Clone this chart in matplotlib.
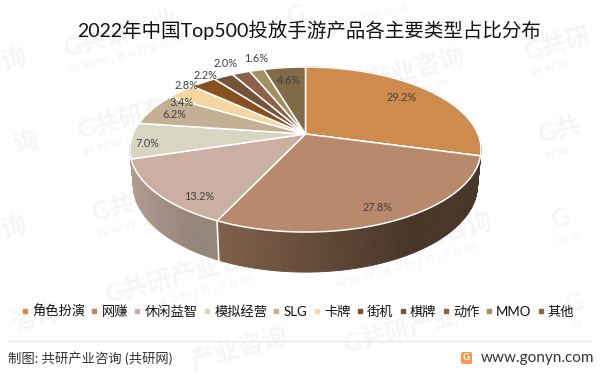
# -*- coding: utf-8 -*-
# pie 3D with perspective, drawn by hand because matplotlib has no 3D pie
import numpy as np
import matplotlib
matplotlib.use("Agg")
import matplotlib.pyplot as plt
from matplotlib.colors import to_rgb
from matplotlib.lines import Line2D
from matplotlib.patches import FancyBboxPatch

plt.rcParams['font.family'] = ['Lato', 'Noto Sans CJK SC', 'DejaVu Sans']

title = "2022年中国Top500投放手游产品各主要类型占比分布"
categorias = ["角色扮演", "网赚", "休闲益智", "模拟经营", "SLG", "卡牌", "街机", "棋牌", "动作", "MMO", "其他"]
valores = [29.2, 27.8, 13.2, 7.0, 6.2, 3.4, 2.8, 2.2, 2.0, 1.6, 4.6]
colores = ["#CF8A4E", "#B8896C", "#CBAFA3", "#D9D5C3", "#C4B195", "#F5D6A1",
           "#875020", "#75533A", "#8D6149", "#A38F61", "#806A47"]

# posicion de las etiquetas en pixeles
pos_etiquetas = [(402, 97), (378, 207), (199, 196), (147, 143), (174, 114), (182, 102),
                 (186, 85), (205, 75), (226, 63), (256, 58), (289, 80)]

# marca de agua: x, y, texto, subtexto (recortada a mano en los bordes)
WWW = "w w w . g o n y n . c o m"
marcas = [(65, 57, "G共研产业", WWW), (79, 139, "G共研产业咨询", WWW),
          (93, 221, "G共研产业咨询", WWW), (107, 303, "G共研产业咨询", WWW),
          (289, 25, "G", "w w w . g o n y n . c"), (303, 107, "G共研产业咨询", WWW),
          (317, 189, "G共研产业咨询", WWW), (331, 271, "G共研产业咨询", WWW),
          (345, 353, "G共研产业", ""),
          (527, 60, "G共研", "w w w"), (541, 143, "G共", "w w"),
          (553, 228, "G", "w w"), (567, 313, "G", "w"),
          (4, 70, "询", ""), (16, 153, "询", ""), (4, 238, "询", ""), (14, 331, "咨询", ""),
          (193, 369, "产业咨询", "")]

# proyeccion del disco
CX, CY = 305.5, 134
RX, RY, K = 172.4, 79.6, 0.188
ALTO, ESCALA = 31.7, 0.98


def proy(t, abajo=False):
    u, v = np.sin(t), np.cos(t)
    w = 1 + K * v
    x = RX * u / w
    y = -RY * v / w
    if abajo:
        return CX + x * ESCALA, CY + y * ESCALA + ALTO / w + 3
    return CX + x, CY + y


def mezcla(c1, c2, f):
    return tuple((1 - f) * np.array(to_rgb(c1)) + f * np.array(to_rgb(c2)))


fig = plt.figure(figsize=(6, 3.74), dpi=100)
ax = fig.add_axes([0, 0, 1, 1])
ax.set_xlim(0, 600)
ax.set_ylim(374, 0)
ax.axis("off")

for mx, my, txt, sub in marcas:
    ax.text(mx, my, txt, fontsize=18, fontweight="bold", color="#f6f6f6",
            rotation=15, rotation_mode="anchor", ha="left", va="baseline", zorder=0)
    if sub:
        ax.text(mx + 5, my + 16, sub, fontsize=10, color="#f4f4f4",
                rotation=15, rotation_mode="anchor", ha="left", va="baseline", zorder=0)

acum = np.concatenate([[0], np.cumsum(valores)]) / sum(valores) * 2 * np.pi

# caras laterales
lado_izq = {0: "#4a3629", 1: "#80604a", 2: "#b09b8f", 3: "#b09b8f"}
lado_der = {0: "#4a3629", 1: "#4a3629", 2: "#95847a", 3: "#b09b8f"}
for i in [0, 3, 2, 1]:
    ts = np.linspace(acum[i], acum[i + 1], 120)
    xs, ys = proy(ts)
    xb, yb = proy(ts, True)
    xmin, xmax = xs.min(), xs.max()
    for j in range(len(ts) - 1):
        f = min((xs[j] - xmin) / (xmax - xmin) / 0.72, 1)
        c = mezcla(lado_izq[i], lado_der[i], f)
        ax.fill([xs[j], xs[j + 1], xb[j + 1], xb[j]], [ys[j], ys[j + 1], yb[j + 1], yb[j]],
                color=c, lw=0.6, zorder=2)
    if i == 1:
        ax.plot([xs[-1], xb[-1]], [ys[-1], yb[-1]], color="white", lw=1.2, zorder=3)

# caras superiores
for i in range(len(valores)):
    ts = np.linspace(acum[i], acum[i + 1], 80)
    xs, ys = proy(ts)
    ax.fill(np.r_[CX, xs], np.r_[CY, ys], facecolor=colores[i], edgecolor="white",
            lw=1.1, joinstyle="round", zorder=4)

for v, (x, y) in zip(valores, pos_etiquetas):
    ax.text(x, y, f"{v:.1f}%", fontsize=7.8, color="#404040", ha="center", va="center", zorder=5)

ax.text(309, 30, title, fontsize=14, color="#111111", ha="center", va="center", zorder=5)

handles = [Line2D([], [], marker="s", ls="", ms=3, color=c) for c in colores]
fig.legend(handles, categorias, ncol=11, loc="center", bbox_to_anchor=(298 / 600, 1 - 311 / 374),
           frameon=False, fontsize=9.5, handlelength=0.5, handletextpad=0.3, columnspacing=0.45,
           labelcolor="#111111")

# pie de pagina
ax.plot([8, 592], [341, 341], color="#e6e6e6", lw=0.8, zorder=1)
ax.text(8, 358, "制图: 共研产业咨询 (共研网)", fontsize=9.6, color="#333333", ha="left", va="center", zorder=5)
ax.add_patch(FancyBboxPatch((461, 352), 11, 12, boxstyle="round,pad=0,rounding_size=2",
                            fc="#F59A4C", ec="none", zorder=5))
ax.text(466.5, 358, "G", fontsize=7, fontweight="bold", color="white", ha="center", va="center", zorder=6)
ax.text(481, 358, "www.gonyn.com", fontsize=11, color="#333333", ha="left", va="center", zorder=5)

fig.savefig("out.png", dpi=100)
